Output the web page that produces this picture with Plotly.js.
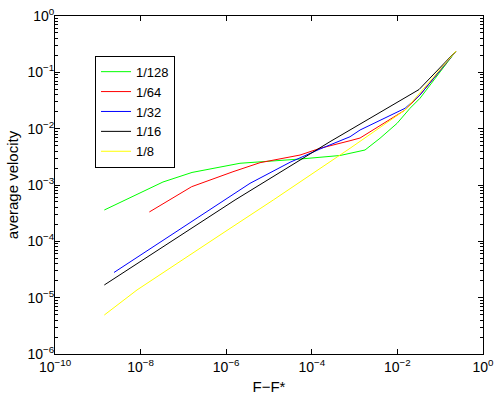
<!DOCTYPE html>
<html>
<head>
<meta charset="utf-8">
<script src="https://cdn.plot.ly/plotly-3.0.1.min.js"></script>
<style>
  html, body { margin: 0; padding: 0; background: #fff; }
  #chart { width: 498px; height: 398px; }
</style>
</head>
<body>
<div id="chart"></div>
<script>
// series labels and colours (MATLAB defaults g, r, b, k, y)
const seriesNames = ['1/128', '1/64', '1/32', '1/16', '1/8'];
const seriesColors = ['#00ff00', '#ff0000', '#0000ff', '#000000', '#ffff00'];

// F - F* values
const x128 = [1.42e-9, 3.33e-8, 1.59e-7, 2.10e-6, 5.30e-5, 4.56e-4, 1.75e-3, 3.92e-3, 9.79e-3, 1.97e-2, 3.37e-2, 0.234];
const v128 = [3.60e-4, 1.13e-3, 1.67e-3, 2.43e-3, 2.89e-3, 3.34e-3, 4.18e-3, 6.75e-3, 1.24e-2, 2.30e-2, 3.46e-2, 0.239];

const x64 = [1.60e-8, 1.56e-7, 1.44e-6, 6.17e-6, 5.30e-5, 1.56e-4, 7.82e-4, 1.34e-3, 1.51e-2, 3.37e-2, 0.234];
const v64 = [3.32e-4, 9.33e-4, 1.72e-3, 2.49e-3, 3.40e-3, 4.48e-3, 6.11e-3, 6.82e-3, 2.14e-2, 3.96e-2, 0.239];

const x32 = [2.39e-9, 3.60e-6, 3.10e-5, 1.56e-4, 7.82e-4, 1.34e-3, 1.51e-2, 3.37e-2, 0.234];
const v32 = [2.80e-5, 1.07e-3, 2.53e-3, 4.36e-3, 7.19e-3, 9.46e-3, 2.30e-2, 3.96e-2, 0.239];

const x16 = [1.42e-9, 1.61e-6, 2.66e-4, 3.20e-2, 0.234];
const v16 = [1.68e-5, 5.42e-4, 5.87e-3, 4.95e-2, 0.239];

const x8 = [1.42e-9, 8.24e-9, 9.37e-7, 1.26e-5, 7.82e-4, 1.51e-2, 0.234];
const v8 = [4.92e-6, 1.37e-5, 1.48e-4, 5.42e-4, 4.48e-3, 2.14e-2, 0.239];

// tick positions and labels
const xTickVals = [1e-10, 1e-8, 1e-6, 1e-4, 1e-2, 1];
const xTickText = ['10<sup>\u221210</sup>', '10<sup>\u22128</sup>', '10<sup>\u22126</sup>', '10<sup>\u22124</sup>', '10<sup>\u22122</sup>', '10<sup>0</sup>'];
const yTickVals = [1e-6, 1e-5, 1e-4, 1e-3, 1e-2, 1e-1, 1];
const yTickText = ['10<sup>\u22126</sup>', '10<sup>\u22125</sup>', '10<sup>\u22124</sup>', '10<sup>\u22123</sup>', '10<sup>\u22122</sup>', '10<sup>\u22121</sup>', '10<sup>0</sup>'];

const xs = [x128, x64, x32, x16, x8];
const vs = [v128, v64, v32, v16, v8];

const traces = seriesNames.map((name, i) => ({
  x: xs[i],
  y: vs[i],
  type: 'scatter',
  mode: 'lines',
  name: name,
  line: { color: seriesColors[i], width: 1 }
}));

const fontFam = 'Liberation Sans, Arial, sans-serif';

const axisCommon = {
  type: 'log',
  showgrid: false,
  zeroline: false,
  showline: true,
  linecolor: '#000',
  linewidth: 1,
  mirror: 'ticks',
  ticks: 'inside',
  ticklen: 5,
  tickcolor: '#000',
  tickmode: 'array',
  tickfont: { family: fontFam, size: 14, color: '#000' }
};

const layout = {
  width: 498,
  height: 398,
  paper_bgcolor: '#fff',
  plot_bgcolor: '#fff',
  font: { family: fontFam, size: 14, color: '#000' },
  margin: { l: 55, r: 15, t: 16, b: 44 },
  showlegend: true,
  legend: {
    x: 0.0935, y: 0.8825, xanchor: 'left', yanchor: 'top',
    bgcolor: '#fff', bordercolor: '#000', borderwidth: 1,
    font: { family: fontFam, size: 13, color: '#000' }
  },
  xaxis: {
    ...axisCommon,
    range: [-10, 0],
    tickvals: xTickVals,
    ticktext: xTickText,
    title: { text: 'F\u2212F*', standoff: 7, font: { size: 15 } }
  },
  yaxis: {
    ...axisCommon,
    range: [-6, 0],
    tickvals: yTickVals,
    ticktext: yTickText,
    ticklabelstandoff: -3,
    minor: { tickmode: 'array', tickvals: [], ticks: 'inside', ticklen: 3, tickcolor: '#000', showgrid: false },
    title: { text: 'average velocity', standoff: 5, font: { size: 15 } }
  }
};

// minor ticks 2..9 in each decade of the y axis
const minorY = [];
for (let e = -6; e < 0; e++) {
  for (let m = 2; m <= 9; m++) minorY.push(m * Math.pow(10, e));
}
layout.yaxis.minor.tickvals = minorY;

Plotly.newPlot('chart', traces, layout, { staticPlot: true, displayModeBar: false });
</script>
</body>
</html>
